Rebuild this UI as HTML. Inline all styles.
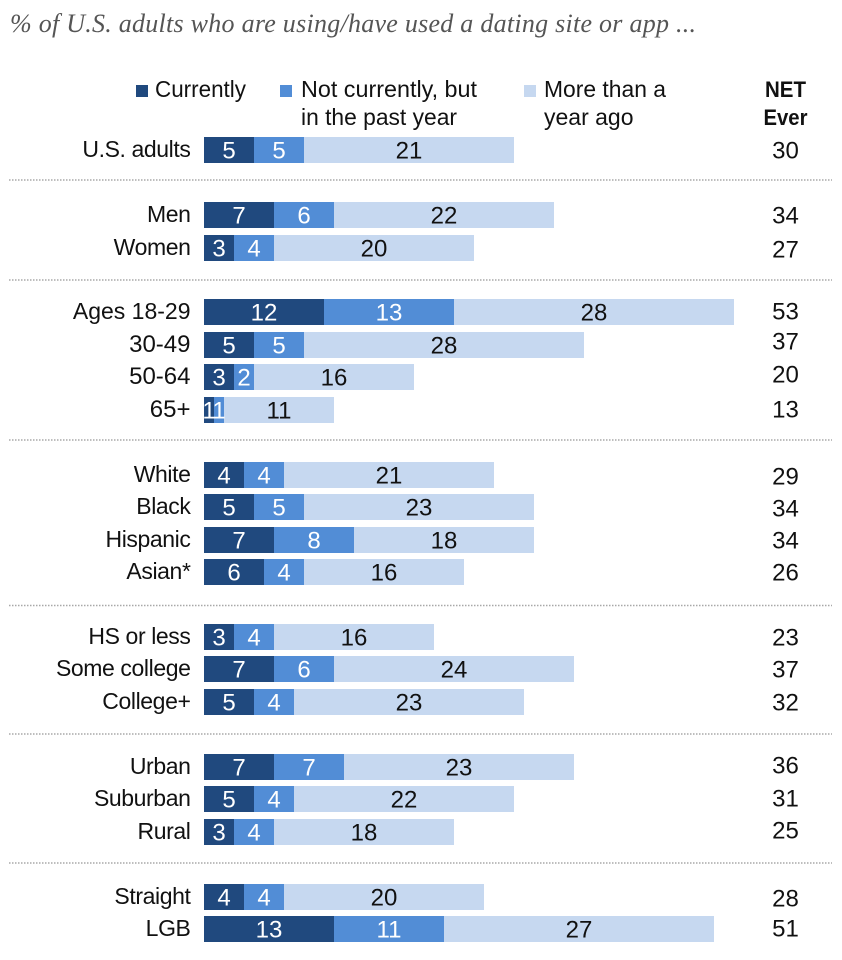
<!DOCTYPE html>
<html>
<head>
<meta charset="utf-8">
<style>
html,body{margin:0;padding:0;background:#fff;width:842px;height:960px;overflow:hidden}
svg{display:block}
text{font-family:"Liberation Sans",sans-serif;font-size:23px;fill:#111}
</style>
</head>
<body>
<svg id="chart" width="842" height="960" viewBox="0 0 842 960">
  <text x="10" y="32" textLength="686" lengthAdjust="spacing" style="font-family:'Liberation Serif',serif;font-style:italic;font-size:26px;fill:#555">% of U.S. adults who are using/have used a dating site or app ...</text>

  <g>
    <rect x="136" y="85" width="12" height="12" fill="#20497e"></rect>
    <text x="155" y="97" textLength="91" lengthAdjust="spacingAndGlyphs">Currently</text>
    <rect x="280" y="85" width="12" height="12" fill="#528dd6"></rect>
    <text x="301" y="97" textLength="176" lengthAdjust="spacingAndGlyphs">Not currently, but</text>
    <text x="301" y="125" textLength="156" lengthAdjust="spacingAndGlyphs">in the past year</text>
    <rect x="524" y="85" width="12" height="12" fill="#c6d8f0"></rect>
    <text x="544" y="97" textLength="122" lengthAdjust="spacingAndGlyphs">More than a</text>
    <text x="544" y="125">year ago</text>
  </g>

  <text x="785.5" y="97" text-anchor="middle" font-weight="bold" textLength="41" lengthAdjust="spacingAndGlyphs" style="font-size:22px">NET</text>
  <text x="785.5" y="125" text-anchor="middle" font-weight="bold" textLength="44" lengthAdjust="spacingAndGlyphs" style="font-size:22px">Ever</text>

  <g stroke="#a8a8a8" stroke-width="1.5" stroke-dasharray="1.5 1.5">
    <line x1="9" x2="832" y1="180" y2="180"></line>
    <line x1="9" x2="832" y1="280" y2="280"></line>
    <line x1="9" x2="832" y1="440" y2="440"></line>
    <line x1="9" x2="832" y1="605.5" y2="605.5"></line>
    <line x1="9" x2="832" y1="734" y2="734"></line>
    <line x1="9" x2="832" y1="863" y2="863"></line>
  </g>

  <g id="rows"></g>
</svg>

<script>
const categories = ["U.S. adults","Men","Women","Ages 18-29","30-49","50-64","65+","White","Black","Hispanic","Asian*","HS or less","Some college","College+","Urban","Suburban","Rural","Straight","LGB"];
const groupIndex = [0,1,1,2,2,2,2,3,3,3,3,4,4,4,5,5,5,6,6];
const currently = [5,7,3,12,5,3,1,4,5,7,6,3,7,5,7,5,3,4,13];
const pastYear = [5,6,4,13,5,2,1,4,5,8,4,4,6,4,7,4,4,4,11];
const moreThanYear = [21,22,20,28,28,16,11,21,23,18,16,16,24,23,23,22,18,20,27];
const netEver = [30,34,27,53,37,20,13,29,34,34,26,23,37,32,36,31,25,28,51];
const netLabelNudge = [0,0,1,-1,-4,-3,-1,1,1,0,0,0,0,0,-2,-1,-2,1,-1];

const SVG_NS = 'http://www.w3.org/2000/svg';
const rowsLayer = document.getElementById('rows');
const xScale = function (v) { return 204 + v * 10; };
const yScale = function (slot) { return Math.round(137.2 + slot * 32.45); };
const seriesList = [
  { values: currently, color: '#20497e', ink: '#fff', key: 'currently' },
  { values: pastYear, color: '#528dd6', ink: '#fff', key: 'past-year' },
  { values: moreThanYear, color: '#c6d8f0', ink: '#111', key: 'more-than-year' }
];
const BAR_HEIGHT = 26;

function makeText(x, y, anchor, content, ink) {
  const t = document.createElementNS(SVG_NS, 'text');
  t.setAttribute('x', x);
  t.setAttribute('y', y);
  t.setAttribute('text-anchor', anchor);
  if (ink) t.style.fill = ink;
  t.textContent = content;
  return t;
}

categories.forEach(function (cat, i) {
  const top = yScale(i + groupIndex[i]);
  const mid = top + BAR_HEIGHT / 2;

  const label = makeText(190.5, top + 20, 'end', cat);
  label.style.letterSpacing = /\d/.test(cat) ? '0' : '-0.4px';
  if (/^\d/.test(cat)) label.style.fontSize = '24px';
  
  
  rowsLayer.appendChild(label);

  let cum = 0;
  seriesList.forEach(function (s) {
    const v = s.values[i];
    const rect = document.createElementNS(SVG_NS, 'rect');
    rect.setAttribute('x', xScale(cum));
    rect.setAttribute('y', top);
    rect.setAttribute('width', xScale(cum + v) - xScale(cum));
    rect.setAttribute('height', BAR_HEIGHT);
    rect.setAttribute('fill', s.color);
    
    
    rowsLayer.appendChild(rect);
    cum += v;
  });

  cum = 0;
  seriesList.forEach(function (s) {
    const v = s.values[i];
    const valueLabel = makeText(xScale(cum + v / 2), mid + 8.5, 'middle', String(v), s.ink);
    valueLabel.style.fontSize = '24px';
    
    
    rowsLayer.appendChild(valueLabel);
    cum += v;
  });

  const net = makeText(785.5, mid + 8.5 + netLabelNudge[i], 'middle', String(netEver[i]));
  net.style.fontSize = '24px';
  
  
  rowsLayer.appendChild(net);
});
</script>
</body>
</html>
